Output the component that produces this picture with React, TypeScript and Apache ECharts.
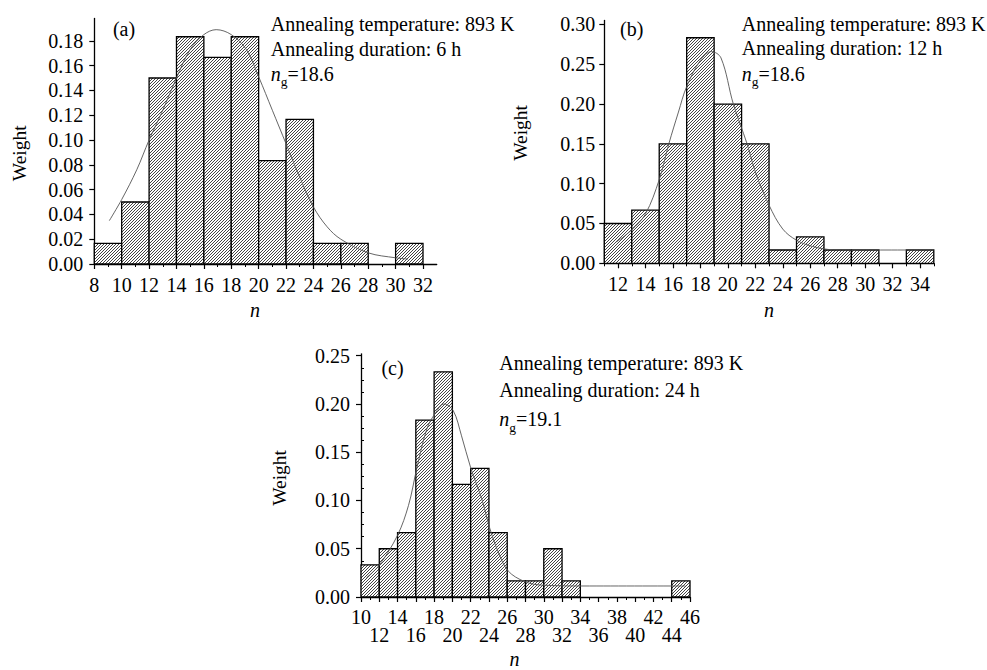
import React, { useEffect, useRef } from 'react';
import * as echarts from 'echarts';

const FONT = '"Liberation Serif", "Times New Roman", serif';

// ---------- data ----------
const BIN_WIDTH = 2;

// (a) 6 h
const aBinStarts = [8, 10, 12, 14, 16, 18, 20, 22, 24, 26, 28, 30];
const aWeights = [0.0167, 0.05, 0.15, 0.1833, 0.1667, 0.1833, 0.0833, 0.1167, 0.0167, 0.0167, 0, 0.0167];
const aCurveN = [9.1, 10, 11.1, 12, 13, 14, 15, 16, 16.9, 18, 19.1, 20, 21, 22, 23, 24, 25, 26, 28, 30, 30.9];
const aCurveW = [0.035, 0.052, 0.076, 0.1, 0.124, 0.15, 0.173, 0.185, 0.189, 0.185, 0.173, 0.151, 0.124, 0.097, 0.07, 0.046, 0.03, 0.02, 0.009, 0.005, 0.004];
const aXTicks = [8, 10, 12, 14, 16, 18, 20, 22, 24, 26, 28, 30, 32];
const aXMinorTicks = [9, 11, 13, 15, 17, 19, 21, 23, 25, 27, 29, 31];
const aYTicks = [0, 0.02, 0.04, 0.06, 0.08, 0.1, 0.12, 0.14, 0.16, 0.18];

// (b) 12 h
const bBinStarts = [11, 13, 15, 17, 19, 21, 23, 25, 27, 29, 31, 33];
const bWeights = [0.05, 0.0667, 0.15, 0.2833, 0.2, 0.15, 0.0167, 0.0333, 0.0167, 0.0167, 0, 0.0167];
const bCurveN = [11.9, 13, 14, 15, 15.7, 16.4, 17, 18, 18.8, 19.5, 20.4, 21.4, 22, 23, 24, 25, 26.2, 27.7, 30, 35];
const bCurveW = [0.027, 0.042, 0.062, 0.105, 0.15, 0.19, 0.222, 0.255, 0.266, 0.258, 0.2, 0.15, 0.115, 0.073, 0.043, 0.029, 0.021, 0.017, 0.0167, 0.0167];
const bXTicks = [12, 14, 16, 18, 20, 22, 24, 26, 28, 30, 32, 34];
const bXMinorTicks = [11, 13, 15, 17, 19, 21, 23, 25, 27, 29, 31, 33, 35];
const bYTicks = [0, 0.05, 0.1, 0.15, 0.2, 0.25, 0.3];

// (c) 24 h
const cBinStarts = [10, 12, 14, 16, 18, 20, 22, 24, 26, 28, 30, 32, 34, 36, 38, 40, 42, 44];
const cWeights = [0.0333, 0.05, 0.0667, 0.1833, 0.2333, 0.1167, 0.1333, 0.0667, 0.0167, 0.0167, 0.05, 0.0167, 0, 0, 0, 0, 0, 0.0167];
const cCurveN = [10.6, 12, 14, 15.2, 16.1, 17.2, 18.1, 19.1, 20.1, 21, 22, 23.2, 24.1, 25, 26.1, 27.9, 29.8, 35, 45.5];
const cCurveW = [0.02, 0.033, 0.064, 0.095, 0.133, 0.174, 0.19, 0.2, 0.193, 0.167, 0.134, 0.102, 0.071, 0.047, 0.027, 0.016, 0.0123, 0.0114, 0.0114];
const cXTicks = [10, 12, 14, 16, 18, 20, 22, 24, 26, 28, 30, 32, 34, 36, 38, 40, 42, 44, 46];
const cXMinorTicks = [11, 13, 15, 17, 19, 21, 23, 25, 27, 29, 31, 33, 35, 37, 39, 41, 43, 45];
const cYTicks = [0, 0.05, 0.1, 0.15, 0.2, 0.25];
const cYMinorTicks = [0.0125, 0.025, 0.0375, 0.0625, 0.075, 0.0875, 0.1125, 0.125, 0.1375, 0.1625, 0.175, 0.1875, 0.2125, 0.225, 0.2375];

// ---------- hatch shape ----------
const HatchShape = (echarts.graphic as any).extendShape({
  type: 'hatchRect',
  shape: { x: 0, y: 0, width: 0, height: 0, step: 3 },
  buildPath(ctx: any, s: any) {
    const x0 = s.x, x1 = s.x + s.width, y0 = s.y, y1 = s.y + s.height;
    const step = s.step;
    const cStart = Math.ceil((x0 + y0) / step) * step;
    for (let c = cStart; c <= x1 + y1; c += step) {
      const xa = Math.max(x0, c - y1);
      const xb = Math.min(x1, c - y0);
      if (xb > xa) {
        ctx.moveTo(xa, c - xa);
        ctx.lineTo(xb, c - xb);
      }
    }
  },
});
(echarts.graphic as any).registerShape('hatchRect', HatchShape);

const histRenderItem = (params: any, api: any) => {
  const x0 = api.value(0);
  const x1 = api.value(1);
  const v = api.value(2);
  if (!v) return null;
  const p0 = api.coord([x0, 0]);
  const p1 = api.coord([x1, v]);
  const r = { x: p0[0], y: p1[1], width: p1[0] - p0[0], height: p0[1] - p1[1] };
  return {
    type: 'group',
    children: [
      { type: 'rect', shape: r, style: { fill: '#fff', stroke: 'none' } },
      { type: 'hatchRect', shape: { ...r, step: 3 }, style: { fill: 'none', stroke: '#111', lineWidth: 0.8 } },
      { type: 'rect', shape: r, style: { fill: 'none', stroke: '#000', lineWidth: 1.3 } },
    ],
  };
};

const textBase = { color: '#000', fontFamily: FONT };

type Panel = {
  grid: any;
  xMin: number; xMax: number; yMax: number;
  xTicks: number[]; xMinor: number[]; yTicks: number[]; yMinor: number[] | null;
  xLabelMargin: number; yLabelMargin: number;
  yNameGap: number; yNamePad: number[]; xNameGap: number; xNamePad: number[];
  stagger: boolean;
  bins: number[]; weights: number[]; curveN: number[]; curveW: number[];
};

const panels: Panel[] = [
  {
    grid: { left: 94.3, top: 18.5, width: 342.4, height: 245.5 },
    xMin: 8, xMax: 33, yMax: 0.198,
    xTicks: aXTicks, xMinor: aXMinorTicks, yTicks: aYTicks, yMinor: null,
    xLabelMargin: 11.5, yLabelMargin: 11, yNameGap: 65, yNamePad: [0, 24, 0, 0], xNameGap: 36, xNamePad: [0, 21, 0, 0],
    stagger: false, bins: aBinStarts, weights: aWeights, curveN: aCurveN, curveW: aCurveW,
  },
  {
    grid: { left: 604.3, top: 20.5, width: 329.5, height: 242.8 },
    xMin: 11, xMax: 35, yMax: 0.305,
    xTicks: bXTicks, xMinor: bXMinorTicks, yTicks: bYTicks, yMinor: null,
    xLabelMargin: 12, yLabelMargin: 9, yNameGap: 74, yNamePad: [0, 0, 0, 18], xNameGap: 37, xNamePad: [0, 0, 0, 0],
    stagger: false, bins: bBinStarts, weights: bWeights, curveN: bCurveN, curveW: bCurveW,
  },
  {
    grid: { left: 361, top: 353.8, width: 329, height: 245.5 },
    xMin: 10, xMax: 46, yMax: 0.252,
    xTicks: cXTicks, xMinor: cXMinorTicks, yTicks: cYTicks, yMinor: cYMinorTicks,
    xLabelMargin: 11, yLabelMargin: 11, yNameGap: 72, yNamePad: [0, 5, 0, 0], xNameGap: 52, xNamePad: [0, 22, 0, 0],
    stagger: true, bins: cBinStarts, weights: cWeights, curveN: cCurveN, curveW: cCurveW,
  },
];

function buildOption() {
  const grid: any[] = [];
  const xAxis: any[] = [];
  const yAxis: any[] = [];
  const series: any[] = [];

  panels.forEach((p, i) => {
    grid.push({ ...p.grid, containLabel: false });
    // staggered labels: first row every other tick, second row the rest
    const row1 = p.stagger ? p.xTicks.filter((_, k) => k % 2 === 0) : p.xTicks;
    const row2 = p.stagger ? p.xTicks.filter((_, k) => k % 2 === 1) : [];
    const majorX = xAxis.length;
    xAxis.push({
      gridIndex: i, type: 'value', min: p.xMin, max: p.xMax, position: 'bottom',
      axisLine: { show: true, onZero: false, lineStyle: { color: '#000', width: 1.3 } },
      axisTick: { show: true, length: 5, customValues: p.xTicks, lineStyle: { color: '#000', width: 1.2 } },
      axisLabel: {
        customValues: row1, margin: p.xLabelMargin, fontSize: 20, lineHeight: 18, ...textBase,
        showMinLabel: true, showMaxLabel: true, hideOverlap: false,
      },
      splitLine: { show: false },
      name: 'n', nameLocation: 'middle', nameGap: p.xNameGap,
      nameTextStyle: { ...textBase, fontSize: 20, fontStyle: 'italic', padding: p.xNamePad },
    });
    xAxis.push({
      gridIndex: i, type: 'value', min: p.xMin, max: p.xMax, position: 'bottom',
      axisLine: { show: false, onZero: false },
      axisTick: { show: true, length: 3, customValues: p.xMinor, lineStyle: { color: '#000', width: 1 } },
      axisLabel: { show: false },
      splitLine: { show: false },
    });
    if (row2.length) {
      xAxis.push({
        gridIndex: i, type: 'value', min: p.xMin, max: p.xMax, position: 'bottom',
        axisLine: { show: false, onZero: false },
        axisTick: { show: false },
        axisLabel: {
          customValues: row2, margin: p.xLabelMargin + 18, fontSize: 20, lineHeight: 18, ...textBase,
          showMinLabel: true, showMaxLabel: true, hideOverlap: false,
        },
        splitLine: { show: false },
      });
    }
    const majorY = yAxis.length;
    yAxis.push({
      gridIndex: i, type: 'value', min: 0, max: p.yMax, position: 'left',
      axisLine: { show: true, onZero: false, lineStyle: { color: '#000', width: 1.3 } },
      axisTick: { show: true, length: 5, customValues: p.yTicks, lineStyle: { color: '#000', width: 1.2 } },
      axisLabel: {
        customValues: p.yTicks, margin: p.yLabelMargin, fontSize: 20, ...textBase,
        showMinLabel: true, showMaxLabel: true,
        formatter: (v: number) => v.toFixed(2),
      },
      splitLine: { show: false },
      name: 'Weight', nameLocation: 'middle', nameGap: p.yNameGap,
      nameTextStyle: { ...textBase, fontSize: 19.5, padding: p.yNamePad },
    });
    if (p.yMinor) {
      yAxis.push({
        gridIndex: i, type: 'value', min: 0, max: p.yMax, position: 'left',
        axisLine: { show: false, onZero: false },
        axisTick: { show: true, inside: true, length: 3, customValues: p.yMinor, lineStyle: { color: '#000', width: 1 } },
        axisLabel: { show: false },
        splitLine: { show: false },
      });
    }

    series.push({
      type: 'custom', xAxisIndex: majorX, yAxisIndex: majorY, z: 2,
      renderItem: histRenderItem,
      encode: { x: [0, 1], y: 2 },
      data: p.bins.map((s, k) => [s, s + BIN_WIDTH, p.weights[k]]),
    });
    series.push({
      type: 'line', xAxisIndex: majorX, yAxisIndex: majorY, z: 3,
      smooth: 0.35, showSymbol: false, symbol: 'none',
      lineStyle: { color: '#555', width: 0.9 },
      data: p.curveN.map((n, k) => [n, p.curveW[k]]),
    });
  });

  const annFont = { fontSize: 20, fontFamily: FONT, fill: '#000' };
  const mkText = (x: number, y: number, text: string, extra: any = {}) => ({
    type: 'text', x, y, z: 10,
    style: { text, ...annFont, align: 'left', verticalAlign: 'middle', textAlign: 'left', textVerticalAlign: 'middle', ...extra },
  });
  const rich = {
    n: { fontSize: 20, fontStyle: 'italic', fontFamily: FONT, lineHeight: 20, fill: '#000', color: '#000' },
    g: { fontSize: 13.5, fontFamily: FONT, lineHeight: 13, padding: [16, 0, 0, 0], fill: '#000', color: '#000' },
    t: { fontSize: 20, fontFamily: FONT, lineHeight: 20, fill: '#000', color: '#000' },
  };
  const ngText = (x: number, y: number, val: string) =>
    mkText(x, y, `{n|n}{g|g}{t|=${val}}`, { rich });

  const graphic = [
    mkText(124, 29, '(a)', { align: 'center', textAlign: 'center' }),
    mkText(631.7, 28.8, '(b)', { align: 'center', textAlign: 'center' }),
    mkText(392.5, 368.3, '(c)', { align: 'center', textAlign: 'center' }),
    mkText(270.7, 24.3, 'Annealing temperature: 893 K'),
    mkText(270.7, 49.3, 'Annealing duration: 6 h'),
    ngText(270.7, 73.6, '18.6'),
    mkText(741.7, 23.6, 'Annealing temperature: 893 K'),
    mkText(741.7, 47.9, 'Annealing duration: 12 h'),
    ngText(741.7, 73.6, '18.6'),
    mkText(499.3, 363, 'Annealing temperature: 893 K'),
    mkText(499.3, 389.6, 'Annealing duration: 24 h'),
    ngText(499.3, 419, '19.1'),
  ];

  return {
    animation: false,
    backgroundColor: '#fff',
    textStyle: { fontFamily: FONT },
    grid, xAxis, yAxis, series, graphic,
  };
}

export default function App() {
  const ref = useRef<HTMLDivElement>(null);
  useEffect(() => {
    const chart = echarts.init(ref.current as HTMLDivElement, null, { renderer: 'svg' });
    chart.setOption(buildOption() as any);
    return () => chart.dispose();
  }, []);
  return (
    <div
      ref={ref}
      style={{ position: 'absolute', left: 0, top: 0, width: 987, height: 670, background: '#fff' }}
    />
  );
}
